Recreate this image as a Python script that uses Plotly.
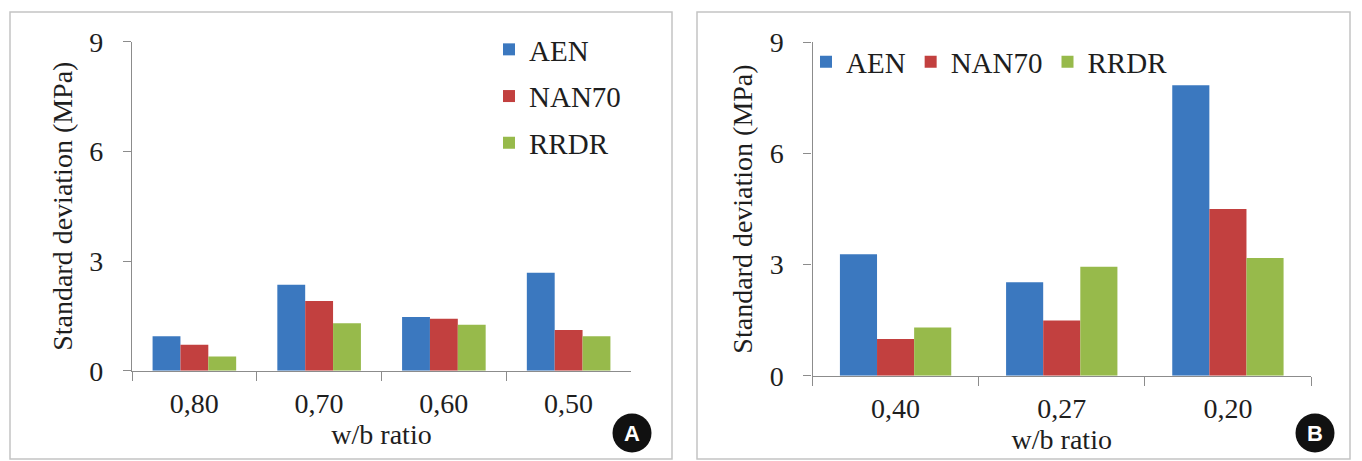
import plotly.graph_objects as go

# ---- data ----
cats_a = ["0,80", "0,70", "0,60", "0,50"]
aen_a = [0.94, 2.35, 1.47, 2.68]
nan70_a = [0.71, 1.91, 1.42, 1.11]
rrdr_a = [0.39, 1.30, 1.26, 0.94]

cats_b = ["0,40", "0,27", "0,20"]
aen_b = [3.28, 2.52, 7.84]
nan70_b = [0.99, 1.49, 4.50]
rrdr_b = [1.30, 2.94, 3.18]

series_names = ["AEN", "NAN70", "RRDR"]
colors = ["#3B78BF", "#C2403F", "#97BA4B"]
y_ticks = [0, 3, 6, 9]

W, H = 1362, 461
FONT = "serif"
TXT = "#1e1e1e"
FS = 28

def px(x):
    return x / W

def py(y):
    return 1 - y / H

fig = go.Figure()

for i, (name, vals) in enumerate(zip(series_names, [aen_a, nan70_a, rrdr_a])):
    fig.add_trace(go.Bar(x=cats_a, y=vals, name=name, marker_color=colors[i],
                         marker_line_width=0, xaxis="x", yaxis="y",
                         legend="legend", legendgroup="a%d" % i))
for i, (name, vals) in enumerate(zip(series_names, [aen_b, nan70_b, rrdr_b])):
    fig.add_trace(go.Bar(x=cats_b, y=vals, name=name, marker_color=colors[i],
                         marker_line_width=0, xaxis="x2", yaxis="y2",
                         legend="legend2"))

def axis_base():
    return dict(showline=True, linecolor="#8c8c8c", linewidth=1.3,
                showgrid=False, zeroline=False, ticks="outside",
                tickcolor="#8c8c8c", tickwidth=1.3, automargin=False,
                tickfont=dict(family=FONT, size=FS, color=TXT))

def xaxis_cfg(domain, anchor):
    d = axis_base()
    d.update(type="category", tickson="boundaries", ticklen=9,
             ticklabelstandoff=8, domain=domain, anchor=anchor,
             title=dict(text="w/b ratio", font=dict(family=FONT, size=FS, color=TXT), standoff=0))
    return d

def yaxis_cfg(domain, anchor):
    d = axis_base()
    d.update(range=[0, 9], tickvals=y_ticks, ticklen=8, ticklabelstandoff=14,
             domain=domain, anchor=anchor,
             title=dict(text="Standard deviation (MPa)", font=dict(family=FONT, size=FS, color=TXT), standoff=8))
    return d

fig.update_layout(
    font=dict(family=FONT, size=FS, color=TXT),
    width=W, height=H,
    margin=dict(l=0, r=0, t=0, b=0, autoexpand=False),
    paper_bgcolor="white", plot_bgcolor="white",
    barmode="group", bargap=0.33, bargroupgap=0,
    xaxis=xaxis_cfg([px(132), px(631)], "y"),
    yaxis=yaxis_cfg([py(370.7), py(41.7)], "x"),
    xaxis2=xaxis_cfg([px(812.5), px(1311)], "y2"),
    yaxis2=yaxis_cfg([py(375.7), py(42.3)], "x2"),
    legend=dict(x=px(489), y=py(24), xanchor="left", yanchor="top",
                orientation="v", tracegroupgap=6, bgcolor="rgba(0,0,0,0)",
                font=dict(family=FONT, size=29, color=TXT)),
    legend2=dict(x=px(806), y=py(62), xanchor="left", yanchor="middle",
                 orientation="h", bgcolor="rgba(0,0,0,0)",
                 font=dict(family=FONT, size=29, color=TXT)),
    showlegend=True,
)

# panel frames
for (x0, x1) in [(10, 672), (697, 1350)]:
    fig.add_shape(type="rect", xref="paper", yref="paper",
                  x0=px(x0), x1=px(x1), y0=py(459), y1=py(12),
                  line=dict(color="#c4c4c4", width=1.5), fillcolor="rgba(0,0,0,0)")

# panel badges
for (cx, label) in [(632, "A"), (1315, "B")]:
    r = 19.5
    fig.add_shape(type="circle", xref="paper", yref="paper",
                  x0=px(cx - r), x1=px(cx + r), y0=py(433 + r), y1=py(433 - r),
                  line=dict(color="#111111", width=0), fillcolor="#111111")
    fig.add_annotation(x=px(cx), y=py(433), xref="paper", yref="paper",
                       text="<b>%s</b>" % label, showarrow=False,
                       xanchor="center", yanchor="middle",
                       font=dict(family="Liberation Sans", size=22, color="white"))

fig.write_html("out.html")
